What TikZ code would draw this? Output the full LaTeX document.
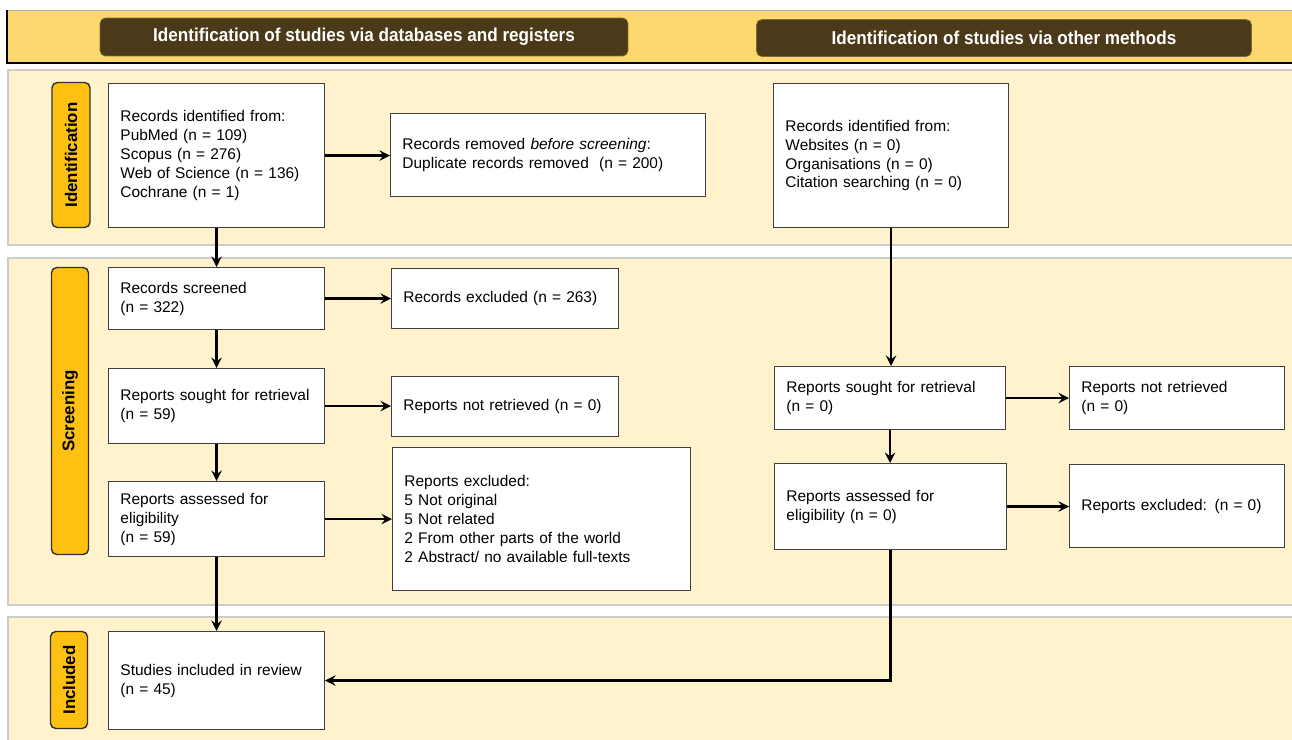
\documentclass[tikz,border=0pt]{standalone}
\usepackage{fontspec}
\setmainfont{Liberation Sans}
\newfontfamily\headfont[FakeStretch=0.92]{Liberation Sans}
\usepackage{tikz}

\definecolor{bannerYellow}{HTML}{FDD86F}
\definecolor{headBrown}{HTML}{4B3A19}
\definecolor{panelCream}{HTML}{FFF2CC}
\definecolor{labelGold}{HTML}{FEC011}

\begin{document}
\begin{tikzpicture}[x=0.02cm, y=-0.02cm,
  prisma/.style={draw=black!75, line width=0.6pt, fill=white, align=left,
    inner xsep=6.8pt, inner ysep=0pt, font=\fontsize{8.8}{10.8}\selectfont},
  phase/.style={draw=black!80, line width=0.8pt, fill=labelGold, rounded corners=3pt,
    rotate=90, font=\bfseries\fontsize{9.6}{11}\selectfont},
  header/.style={fill=headBrown, draw=headBrown!70!bannerYellow, rounded corners=3pt,
    text=white, font=\headfont\bfseries\fontsize{10.6}{12}\selectfont},
  flow/.style={line width=1.6pt, -stealth}]
  \newcommand{\PrismaBox}[6]{%
    \pgfmathsetlengthmacro{\BoxW}{(#4-#2)*0.02cm-13.6pt}%
    \pgfmathsetlengthmacro{\BoxH}{(#5-#3)*0.02cm}%
    \node[prisma, text width=\BoxW, minimum height=\BoxH, anchor=north west] (#1) at (#2,#3) {#6};%
  }
  \useasboundingbox (0,0) rectangle (1292,740);

  % banner and phase panels
  \fill[bannerYellow] (7,10) rectangle (1295,63);
  \draw[gray!60] (7,10) -- (1295,10);
  \draw[line width=1pt] (7,10) -- (7,63) -- (1295,63);
  \draw[gray!40, line width=0.8pt, fill=panelCream] (8,70) rectangle (1295,245);
  \draw[gray!40, line width=0.8pt, fill=panelCream] (8,258) rectangle (1295,605);
  \draw[gray!40, line width=0.8pt, fill=panelCream] (8,617) rectangle (1295,745);

  \node[header, minimum width=10.56cm, minimum height=0.76cm] (headDb) at (364,37)
    {Identification of studies via databases and registers};
  \node[header, minimum width=9.9cm, minimum height=0.74cm] (headOther) at (1004,38)
    {Identification of studies via other methods};

  \node[phase, minimum width=2.9cm, minimum height=0.76cm] (tabId) at (71,155) {Identification};
  \node[phase, minimum width=5.74cm, minimum height=0.74cm] (tabScr) at (70,411) {Screening};
  \node[phase, minimum width=1.94cm, minimum height=0.74cm] (tabInc) at (69,680) {Included};

  % boxes
  \PrismaBox{idDb}{108}{83}{324}{227}{Records identified from:\\PubMed (n = 109)\\Scopus (n = 276)\\Web of Science (n = 136)\\Cochrane (n = 1)}
  \PrismaBox{removed}{390}{113}{705}{196}{Records removed \textit{before screening}:\\Duplicate records removed\ \ (n = 200)}
  \PrismaBox{idOther}{773}{83}{1008}{227}{Records identified from:\\Websites (n = 0)\\Organisations (n = 0)\\Citation searching (n = 0)}
  \PrismaBox{screened}{108}{267}{324}{329}{Records screened\\(n = 322)}
  \PrismaBox{excluded}{391}{268}{618}{328}{Records excluded (n = 263)}
  \PrismaBox{sought}{108}{368}{324}{443}{Reports sought for retrieval\\(n = 59)}
  \PrismaBox{notRetr}{391}{376}{618}{436}{Reports not retrieved (n = 0)}
  \PrismaBox{assessed}{108}{481}{324}{556}{Reports assessed for\\eligibility\\(n = 59)}
  \PrismaBox{repExcl}{392}{447}{690}{590}{Reports excluded:\\5 Not original\\5 Not related\\2 From other parts of the world\\2 Abstract/ no available full-texts}
  \PrismaBox{soughtOther}{774}{366}{1005}{429}{Reports sought for retrieval\\(n = 0)}
  \PrismaBox{notRetrOther}{1069}{366}{1284}{429}{Reports not retrieved\\(n = 0)}
  \PrismaBox{assessedOther}{774}{463}{1006}{549}{Reports assessed for\\eligibility (n = 0)}
  \PrismaBox{exclOther}{1069}{464}{1284}{547}{Reports excluded: (n = 0)}
  \PrismaBox{included}{108}{631}{324}{729}{Studies included in review\\(n = 45)}

  % arrows
  \draw[flow] (idDb.east) -- (idDb.east -| removed.west);
  \draw[flow] (idDb.south) -- (screened.north);
  \draw[flow] (screened.east) -- (screened.east -| excluded.west);
  \draw[flow] (screened.south) -- (sought.north);
  \draw[flow] (sought.east) -- (sought.east -| notRetr.west);
  \draw[flow] (sought.south) -- (assessed.north);
  \draw[flow] (assessed.east) -- (assessed.east -| repExcl.west);
  \draw[flow] (assessed.south) -- (included.north);
  \draw[flow] (idOther.south) -- (idOther.south |- soughtOther.north);
  \draw[flow] (soughtOther.east) -- (soughtOther.east -| notRetrOther.west);
  \draw[flow] (soughtOther.south) -- (soughtOther.south |- assessedOther.north);
  \draw[flow] (assessedOther.east) -- (assessedOther.east -| exclOther.west);
  \draw[flow] (assessedOther.south) |- (included.east);

\end{tikzpicture}
\end{document}
